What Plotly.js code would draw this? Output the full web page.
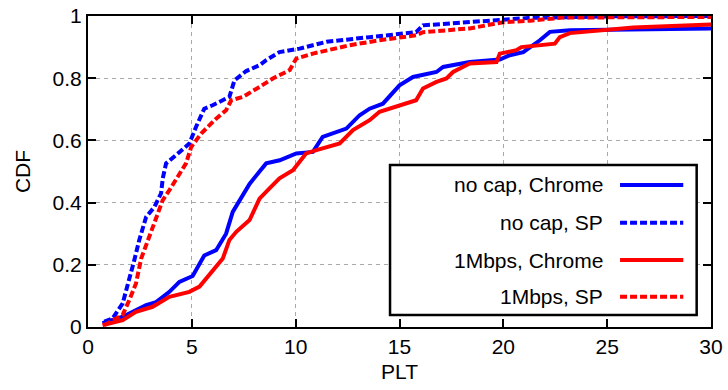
<!DOCTYPE html>
<html>
<head>
<meta charset="utf-8">
<script src="https://cdn.plot.ly/plotly-3.0.1.min.js"></script>
<style>
  html, body { margin: 0; padding: 0; background: #fff; }
  #plot { width: 728px; height: 390px; }
</style>
</head>
<body>
<div id="plot"></div>
<script>
// Page load time CDFs (seconds)
const noCapChromeX = [0.7, 1.67, 2.8, 3.28, 3.92, 4.4, 5.04, 5.6, 6.17, 6.65, 6.97, 7.3, 7.78, 8.26, 8.58, 9.23, 10.03, 10.83, 11.3, 12.44, 13.08, 13.56, 14.2, 15.0, 15.65, 16.78, 17.1, 18.38, 19.83, 20.31, 20.96, 21.76, 22.24, 23.2, 26.9, 30];
const noCapChromeY = [0.012, 0.033, 0.07, 0.08, 0.113, 0.145, 0.164, 0.23, 0.247, 0.30, 0.37, 0.408, 0.46, 0.5, 0.526, 0.536, 0.558, 0.563, 0.611, 0.638, 0.681, 0.702, 0.718, 0.777, 0.804, 0.82, 0.836, 0.852, 0.86, 0.874, 0.884, 0.922, 0.949, 0.954, 0.956, 0.96];

const noCapSpX = [0.79, 1.19, 1.67, 1.99, 2.23, 2.47, 2.8, 3.2, 3.52, 3.6, 3.76, 4.24, 4.88, 5.2, 5.6, 6.0, 6.81, 7.05, 7.62, 8.26, 8.58, 9.22, 10.19, 10.83, 11.48, 13.56, 15.8, 16.13, 18.06, 19.5, 21.28, 25.3, 30];
const noCapSpY = [0.017, 0.028, 0.076, 0.151, 0.215, 0.28, 0.354, 0.386, 0.43, 0.478, 0.526, 0.553, 0.59, 0.643, 0.702, 0.713, 0.74, 0.793, 0.823, 0.842, 0.858, 0.884, 0.895, 0.906, 0.917, 0.932, 0.948, 0.97, 0.98, 0.986, 0.994, 0.999, 1.0];

const capChromeX = [0.7, 1.67, 2.31, 3.11, 3.92, 4.88, 5.37, 5.69, 6.0, 6.49, 6.81, 7.14, 7.78, 8.26, 8.74, 9.22, 9.87, 10.5, 11.0, 12.12, 12.76, 13.56, 14.04, 14.85, 15.8, 16.13, 16.78, 17.26, 17.58, 18.38, 19.67, 19.83, 20.63, 20.87, 22.48, 22.72, 23.2, 26.26, 30];
const capChromeY = [0.006, 0.022, 0.049, 0.065, 0.097, 0.113, 0.13, 0.156, 0.183, 0.22, 0.28, 0.306, 0.344, 0.413, 0.446, 0.478, 0.504, 0.558, 0.569, 0.59, 0.633, 0.665, 0.692, 0.708, 0.729, 0.767, 0.788, 0.799, 0.82, 0.847, 0.852, 0.879, 0.89, 0.9, 0.911, 0.932, 0.945, 0.963, 0.973];

const capSpX = [0.79, 1.67, 1.99, 2.31, 2.56, 2.96, 3.28, 3.6, 3.92, 4.4, 4.72, 4.97, 5.45, 6.17, 6.65, 6.9, 7.46, 8.26, 8.9, 9.71, 10.03, 10.83, 11.63, 12.6, 14.04, 15.8, 16.13, 18.38, 19.19, 20.0, 21.28, 22.9, 30];
const capSpY = [0.006, 0.039, 0.087, 0.14, 0.22, 0.29, 0.344, 0.408, 0.44, 0.494, 0.526, 0.579, 0.622, 0.67, 0.697, 0.729, 0.74, 0.772, 0.799, 0.826, 0.863, 0.879, 0.89, 0.906, 0.922, 0.938, 0.948, 0.96, 0.97, 0.98, 0.985, 0.995, 0.997];

const seriesNames = ['no cap, Chrome', 'no cap, SP', '1Mbps, Chrome', '1Mbps, SP'];
const xTicks = [0, 5, 10, 15, 20, 25, 30];
const yTicks = [0, 0.2, 0.4, 0.6, 0.8, 1];
const yTickText = ['0', '0.2', '0.4', '0.6', '0.8', '1'];

const FONT = 'Liberation Sans, Arial, sans-serif';
const FS = 21;
const BLUE = '#0000ff';
const RED = '#ff0000';
const DASH = '7px,3px';
const styles = [
  { color: BLUE, dash: 'solid' },
  { color: BLUE, dash: DASH },
  { color: RED, dash: 'solid' },
  { color: RED, dash: DASH }
];
const xs = [noCapChromeX, noCapSpX, capChromeX, capSpX];
const ys = [noCapChromeY, noCapSpY, capChromeY, capSpY];

const traces = seriesNames.map((name, i) => ({
  x: xs[i], y: ys[i], name: name, type: 'scatter', mode: 'lines',
  line: { color: styles[i].color, dash: styles[i].dash, width: 4 },
  showlegend: false
}));

// Hand-built key box: labels right-aligned, line samples to the right
const shapes = [{
  type: 'rect', xref: 'paper', yref: 'paper',
  x0: 0.4848, x1: 0.977, y0: 0.0386, y1: 0.521,
  line: { color: '#000', width: 2.5 }, fillcolor: '#fff', layer: 'above'
}];
const annotations = [];
const rowY = [0.4566, 0.3354, 0.2154, 0.0974];
seriesNames.forEach((name, i) => {
  shapes.push({
    type: 'line', xref: 'paper', yref: 'paper',
    x0: 0.854, x1: 0.9555, y0: rowY[i], y1: rowY[i],
    line: { color: styles[i].color, dash: styles[i].dash, width: 4 }, layer: 'above'
  });
  annotations.push({
    xref: 'paper', yref: 'paper', x: 0.83, y: rowY[i],
    xanchor: 'right', yanchor: 'middle', showarrow: false,
    text: name, font: { family: FONT, size: FS, color: '#000' }
  });
});

const axisCommon = {
  showline: true, linecolor: '#000', linewidth: 2, mirror: 'ticks',
  ticks: 'inside', ticklen: 8, tickwidth: 2, tickcolor: '#000',
  showgrid: true, gridcolor: '#aaaaaa', gridwidth: 1, griddash: '4px,4px',
  zeroline: false,
  tickfont: { family: FONT, size: FS, color: '#000' }
};

const layout = {
  width: 728, height: 390,
  margin: { l: 88, r: 17, t: 16, b: 63 },
  paper_bgcolor: '#fff', plot_bgcolor: '#fff',
  xaxis: Object.assign({}, axisCommon, {
    range: [0, 30], tickvals: xTicks,
    title: { text: 'PLT', standoff: 7, font: { family: FONT, size: FS, color: '#000' } }
  }),
  yaxis: Object.assign({}, axisCommon, {
    range: [0, 1], tickvals: yTicks, ticktext: yTickText,
    title: { text: 'CDF', standoff: 16, font: { family: FONT, size: FS, color: '#000' } }
  }),
  shapes: shapes,
  annotations: annotations
};

Plotly.newPlot('plot', traces, layout, { staticPlot: true, displayModeBar: false });
</script>
</body>
</html>
